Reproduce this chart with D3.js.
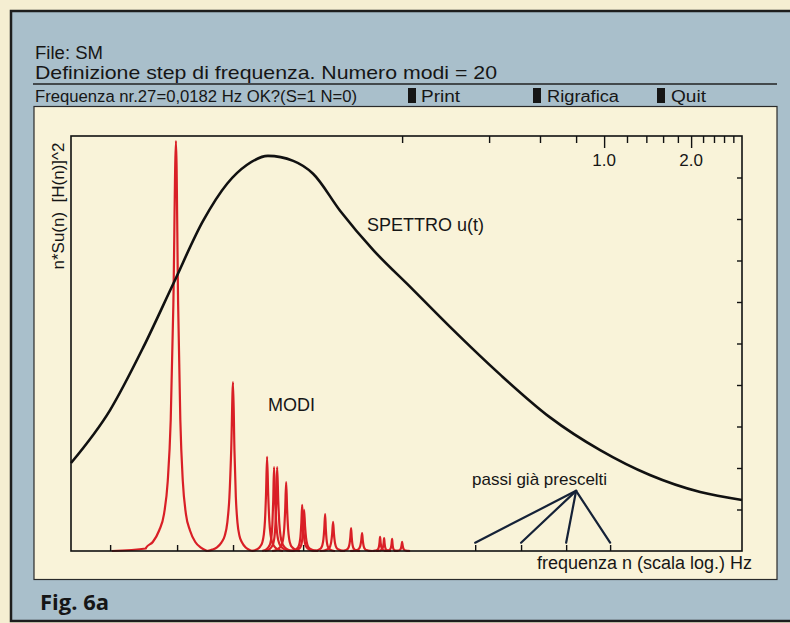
<!DOCTYPE html>
<html>
<head>
<meta charset="utf-8">
<script src="https://cdn.jsdelivr.net/npm/d3@7"></script>
<style>
  body { margin: 0; background: #f5eed2; }
  svg { display: block; font-family: "Liberation Sans", Arial, Helvetica, sans-serif; }
</style>
</head>
<body>
<svg id="chart" width="790" height="623"></svg>
<script>
// spectrum u(t): frequency (Hz) and n*Su(n)
var spectrumFreq = [0.0143, 0.0195, 0.0254, 0.0323, 0.0410, 0.0496, 0.0580, 0.0687, 0.0840, 0.0984, 0.122, 0.159, 0.215, 0.293, 0.437, 0.650, 0.969, 1.44, 2.15, 3.0];
var spectrumVal  = [2.12, 3.39, 4.90, 6.44, 7.96, 8.85, 9.30, 9.52, 9.40, 9.09, 8.20, 7.25, 6.34, 5.40, 4.25, 3.22, 2.43, 1.83, 1.42, 1.23];

// modes: peak frequency, peak height, left and right foot frequency
var modeFreq  = [0.0330, 0.0520, 0.0682, 0.0721, 0.0739, 0.0794, 0.0902, 0.0916, 0.1083, 0.1154, 0.1332, 0.1454, 0.1678, 0.1733, 0.1847, 0.2000];
var modePeak  = [9.88, 4.07, 2.27, 2.02, 2.02, 1.66, 1.11, 0.99, 0.89, 0.70, 0.55, 0.43, 0.34, 0.31, 0.29, 0.22];
var modeFootL = [0.0245, 0.0423, 0.0605, 0.0656, 0.0671, 0.0710, 0.0820, 0.0833, 0.0984, 0.1040, 0.1221, 0.1322, 0.1575, 0.1626, 0.1733, 0.1876];
var modeFootR = [0.0423, 0.0610, 0.0775, 0.0820, 0.0839, 0.0887, 0.1000, 0.1024, 0.1173, 0.1270, 0.1431, 0.1575, 0.1789, 0.1832, 0.1937, 0.2132];
var redStartFreq = 0.0198;   // where the first mode's tail leaves the baseline
// resonance profile: (share of the way from peak to foot, share of peak height)
var modeShape = [[0, 1], [0.07, 0.6], [0.14, 0.32], [0.22, 0.17], [0.32, 0.09], [0.45, 0.05], [0.62, 0.022], [0.8, 0.008], [1, 0]];

// frequency steps (bottom ticks) and the ones already chosen
var stepFreq = [0.01953, 0.0333, 0.0520, 0.0909, 0.358, 0.516, 0.739, 1.049];
var chosenSteps = [0.358, 0.516, 0.739, 1.049];
var noteFreq = 0.80, noteVal = 1.45, noteEndVal = 0.2;

var topTicks = [0.2, 0.4, 0.6, 0.8, 1.0, 1.2, 1.4, 1.6, 1.8, 2.0, 2.2, 2.4, 2.6, 2.8];
var topLabels = [1.0, 2.0];
var rightTicks = [1, 2, 3, 4, 5, 6, 7, 8, 9];

(function() {
  'use strict';
  var svg = d3.select('#chart');

  // blue panel and cream box
  svg.append('rect').attr('x', 11).attr('y', 11).attr('width', 800).attr('height', 610)
    .attr('fill', '#a9bfcb').attr('stroke', '#1d1d1d').attr('stroke-width', 2.5);
  svg.append('rect').attr('x', 34).attr('y', 106.5).attr('width', 743).attr('height', 473)
    .attr('fill', '#f9f3d9').attr('stroke', '#2a2a2a').attr('stroke-width', 1.2);

  // header
  var head = svg.append('g').attr('fill', '#161616');
  head.append('text').attr('x', 35).attr('y', 59).style('font-size', '18px')
    .attr('textLength', 68).attr('lengthAdjust', 'spacingAndGlyphs').text('File: SM');
  head.append('text').attr('x', 35).attr('y', 79).style('font-size', '19px')
    .attr('textLength', 462).attr('lengthAdjust', 'spacingAndGlyphs')
    .text('Definizione step di frequenza. Numero modi = 20');
  svg.append('line').attr('x1', 33).attr('x2', 777).attr('y1', 84).attr('y2', 84)
    .attr('stroke', '#222').attr('stroke-width', 1.3);
  head.append('text').attr('x', 35).attr('y', 101.5).style('font-size', '16px')
    .attr('textLength', 322).attr('lengthAdjust', 'spacingAndGlyphs')
    .text('Frequenza nr.27=0,0182 Hz OK?(S=1 N=0)');
  var menu = [['Print', 408, 421, 39], ['Rigrafica', 533, 547, 72], ['Quit', 657, 671, 35]];
  menu.forEach(function(m) {
    head.append('rect').attr('x', m[1]).attr('y', 88).attr('width', 8).attr('height', 15);
    head.append('text').attr('x', m[2]).attr('y', 101.5).style('font-size', '16px')
      .attr('textLength', m[3]).attr('lengthAdjust', 'spacingAndGlyphs').text(m[0]);
  });

  svg.append('text').attr('x', 40).attr('y', 610).attr('fill', '#161616')
    .style('font-family', '"Open Sans", sans-serif').style('font-weight', 700).style('font-size', '22px')
    .text('Fig. 6a');

  // plot
  var pLeft = 71, pRight = 742, pTop = 136, pBottom = 551;
  var x = d3.scaleLog().domain([0.0143, 3.0]).range([pLeft, pRight]);
  var y = d3.scaleLinear().domain([0, 10]).range([pBottom, pTop]);

  var plot = svg.append('g');

  // red modes
  var modeLine = d3.line().x(function(d) { return x(d[0]); }).y(function(d) { return y(d[1]); })
    .curve(d3.curveMonotoneX);
  modeFreq.forEach(function(f, i) {
    var lp = Math.log10(f), ll = Math.log10(modeFootL[i]), lr = Math.log10(modeFootR[i]);
    var pts = [], k;
    if (i === 0) pts.push([redStartFreq, 0], [modeFootL[0] * 1.06, 0.06]);
    for (k = modeShape.length - 1; k >= 0; k--) {
      if (i === 0 && k === modeShape.length - 1) continue;
      pts.push([Math.pow(10, lp - modeShape[k][0] * (lp - ll)), modeShape[k][1] * modePeak[i]]);
    }
    for (k = 1; k < modeShape.length; k++) {
      pts.push([Math.pow(10, lp + modeShape[k][0] * (lr - lp)), modeShape[k][1] * modePeak[i]]);
    }
    plot.append('path').attr('d', modeLine(pts)).attr('fill', 'none')
      .attr('stroke', '#d91f26').attr('stroke-width', 2.2).attr('stroke-linejoin', 'round');
  });

  // spectrum
  var specLine = d3.line().x(function(d, i) { return x(spectrumFreq[i]); })
    .y(function(d) { return y(d); }).curve(d3.curveMonotoneX);
  plot.append('path').attr('d', specLine(spectrumVal)).attr('fill', 'none')
    .attr('stroke', '#111').attr('stroke-width', 2.6);

  // frame and axes
  plot.append('rect').attr('x', pLeft).attr('y', pTop).attr('width', pRight - pLeft).attr('height', pBottom - pTop)
    .attr('fill', 'none').attr('stroke', '#111').attr('stroke-width', 1.6);

  var topAxis = plot.append('g').attr('transform', 'translate(0,' + pTop + ')')
    .call(d3.axisBottom(x).tickValues(topTicks).tickSize(7).tickFormat(''));
  topAxis.selectAll('.tick line').attr('stroke', '#111').attr('stroke-width', 1.4)
    .attr('y2', function(d) { return topLabels.indexOf(d) >= 0 ? 12 : 7; });
  topAxis.select('.domain').remove();
  topLabels.forEach(function(v) {
    plot.append('text').attr('x', x(v)).attr('y', 166).attr('text-anchor', 'middle')
      .attr('fill', '#161616').style('font-size', '17px').text(d3.format('.1f')(v));
  });

  var botAxis = plot.append('g').attr('transform', 'translate(0,' + pBottom + ')')
    .call(d3.axisTop(x).tickValues(stepFreq).tickSize(6).tickFormat(''));
  botAxis.selectAll('.tick line').attr('stroke', '#111').attr('stroke-width', 1.4);
  botAxis.select('.domain').remove();

  var rightAxis = plot.append('g').attr('transform', 'translate(' + pRight + ',0)')
    .call(d3.axisLeft(y).tickValues(rightTicks).tickSize(5).tickFormat(''));
  rightAxis.selectAll('.tick line').attr('stroke', '#111').attr('stroke-width', 1.4);
  rightAxis.select('.domain').remove();

  // "passi già prescelti" pointers
  chosenSteps.forEach(function(f) {
    plot.append('line').attr('x1', x(noteFreq)).attr('y1', y(noteVal))
      .attr('x2', x(f)).attr('y2', y(noteEndVal))
      .attr('stroke', '#152238').attr('stroke-width', 2.2).attr('stroke-linecap', 'round');
  });

  // labels
  var lab = plot.append('g').attr('fill', '#161616');
  lab.append('text').attr('x', 367).attr('y', 231).style('font-size', '18px').text('SPETTRO u(t)');
  lab.append('text').attr('x', 268).attr('y', 411).style('font-size', '18px').text('MODI');
  lab.append('text').attr('x', 472).attr('y', 485).style('font-size', '17px').text('passi già prescelti');
  lab.append('text').attr('x', 752).attr('y', 569).attr('text-anchor', 'end').style('font-size', '18px')
    .text('frequenza n (scala log.) Hz');
  lab.append('text').attr('transform', 'translate(64,206) rotate(-90)').attr('text-anchor', 'middle')
    .style('font-size', '17px').style('white-space', 'pre').text('n*Su(n)  [H(n)]^2');
})();
</script>
</body>
</html>
